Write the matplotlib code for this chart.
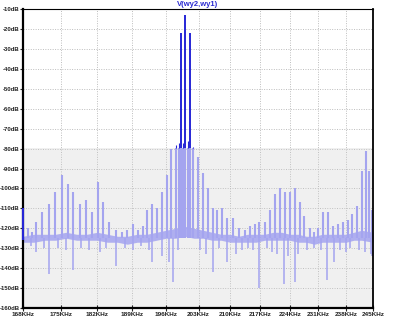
#!/usr/bin/env python3

import matplotlib

matplotlib.use("Agg")
import matplotlib.pyplot as plt
import numpy as np

# spurs going up from the noise floor (kHz, dB)
up_khz = [168.9, 169.6, 170.4, 171.5, 172.8, 173.9, 175.2, 176.3, 177.3, 178.6,
          179.8, 181.0, 182.1, 183.1, 184.3, 185.7, 186.9, 188.0, 189.1, 190.2,
          191.1, 192.0, 193.1, 194.1, 195.2, 196.2, 197.1, 198.1, 198.8, 199.1,
          199.6, 200.1, 200.6, 201.1, 201.8, 202.9, 204.0, 205.1, 206.2, 207.1,
          208.2, 209.3, 210.7, 212.0, 213.4, 214.6, 215.7, 216.7, 218.1, 219.2,
          220.4, 221.6, 222.8, 224.0, 225.2, 226.5, 227.4, 228.9, 230.0, 230.9,
          232.2, 233.4, 234.7, 235.9, 237.2, 238.4, 239.5, 240.8, 242.1, 243.2,
          244.0, 244.8]
up_db = [-120, -122, -117, -112, -108, -102, -93, -98, -102, -108,
         -106, -112, -97, -107, -117, -121, -122, -121, -118, -121,
         -119, -111, -108, -110, -102, -93, -80, -78, -77, -22,
         -77, -13, -76, -22, -79, -84, -92, -100, -110, -111,
         -110, -115, -115, -120, -121, -119, -118, -117, -117, -111,
         -103, -100, -102, -102, -100, -107, -114, -120, -122, -120,
         -112, -112, -119, -118, -117, -116, -113, -109, -91, -81,
         -91, -111]

# spurs going down from the noise floor
down_khz = [169.4, 170.4, 171.9, 172.8, 174.5, 176.0, 177.3, 178.9, 180.4, 182.6,
            183.8, 185.7, 187.5, 189.1, 190.8, 192.4, 193.1, 195.2, 196.7, 197.5,
            198.6, 203.3, 204.6, 206.2, 207.6, 209.3, 211.3, 212.7, 214.0, 215.2,
            216.7, 218.6, 219.8, 221.0, 222.5, 223.5, 225.2, 226.0, 228.2, 229.8,
            231.6, 233.2, 234.9, 236.5, 238.0, 239.0, 241.4, 242.8, 244.4, 244.8]
down_db = [-129, -132, -130, -143, -130, -131, -141, -130, -131, -132,
           -130, -139, -130, -131, -129, -131, -137, -134, -137, -147,
           -131, -131, -133, -142, -130, -137, -133, -131, -130, -131,
           -150, -130, -132, -133, -148, -134, -147, -133, -131, -130,
           -131, -146, -137, -131, -132, -130, -131, -132, -133, -134]

# noise floor band
floor_khz = [168, 170, 172, 174, 176, 178, 180, 182, 184, 186,
             188, 190, 192, 194, 196, 198, 200, 202, 204, 206,
             208, 210, 212, 214, 216, 218, 220, 222, 224, 226,
             228, 230, 232, 234, 236, 238, 240, 242, 245]
floor_hi = [-124, -123, -123, -123, -122, -123, -123, -122, -123, -124,
            -124, -123, -123, -122, -121, -120, -119, -120, -121, -122,
            -123, -123, -124, -123, -123, -123, -122, -122, -123, -123,
            -124, -124, -123, -123, -123, -123, -122, -121, -122]
floor_lo = [-127, -127, -126, -126, -125, -126, -126, -126, -127, -127,
            -128, -127, -127, -126, -125, -125, -124, -125, -125, -126,
            -126, -127, -127, -127, -127, -126, -126, -126, -126, -127,
            -127, -128, -127, -127, -127, -127, -126, -126, -127]

# trace segment drawn at the very left edge
edge_khz = 168.0
edge_db = (-126, -110)

x_ticks = [168, 175, 182, 189, 196, 203, 210, 217, 224, 231, 238, 245]
y_ticks = list(range(-10, -161, -10))

DARK = "#2626d6"
LIGHT = "#a4a4ef"
SHADE = "#f0f0f0"
GRID = "#bdbdbd"
CUT = -79.5
BASE = -125


def main():
    fig = plt.figure(figsize=(4, 3.2), dpi=100)
    ax = fig.add_axes([0.0575, 0.0375, 0.875, 0.934])
    ax.set_xscale("log")
    ax.set_xlim(168, 245)
    ax.set_ylim(-160, -10)

    ax.grid(True, color=GRID, linestyle=(0, (1, 1.5)), linewidth=0.7)
    ax.axhspan(-160, CUT, color=SHADE, zorder=0.6, linewidth=0)
    ax.vlines(x_ticks[1:-1], -160, CUT, color="white", linestyle=(0, (1, 1.5)),
              linewidth=0.7, zorder=0.7)
    ax.hlines(y_ticks[7:-1], 168, 245, color="white", linestyle=(0, (1, 1.5)),
              linewidth=0.7, zorder=0.7)

    up = np.array(up_db, dtype=float)
    ax.fill_between(floor_khz, floor_lo, floor_hi, color=LIGHT, alpha=0.85,
                    linewidth=0, zorder=2)
    ax.vlines(up_khz, BASE, np.minimum(up, CUT), color=LIGHT, linewidth=1.5,
              zorder=2)
    ax.vlines(down_khz, BASE, down_db, color=LIGHT, linewidth=1.1, zorder=2)

    tall = up > CUT
    widths = np.where(up[tall] > -60, 1.4, 0.8)
    ax.vlines(np.array(up_khz)[tall], CUT, up[tall], color=DARK, linewidths=widths,
              zorder=3)
    ax.vlines([edge_khz], edge_db[0], edge_db[1], color=DARK, linewidth=1.5,
              zorder=5, clip_on=False)

    ax.set_xticks(x_ticks)
    ax.set_xticklabels([f"{v}KHz" for v in x_ticks])
    ax.xaxis.set_minor_locator(matplotlib.ticker.NullLocator())
    ax.set_yticks(y_ticks)
    ax.set_yticklabels([f"{v}dB" for v in y_ticks])

    ax.tick_params(axis="both", labelsize=4.6, colors="#222222", length=2.5,
                   width=0.8, pad=0.8)
    ax.tick_params(axis="y", labelsize=4.3, length=2, pad=0.3)
    ax.tick_params(axis="x", direction="inout", length=4)
    for lab in ax.get_xticklabels() + ax.get_yticklabels():
        lab.set_fontweight("bold")
        lab.set_fontfamily("Liberation Sans")

    for side, width in (("left", 1.6), ("bottom", 1.6), ("right", 1.3), ("top", 0.8)):
        ax.spines[side].set_linewidth(width)
        ax.spines[side].set_color("black")
        ax.spines[side].set_zorder(4)

    fig.text(0.495, 0.985, "V(wy2,wy1)", color="#2a2ad0", fontsize=5.5,
             fontweight="bold", family="Liberation Sans", ha="center", va="center")

    fig.savefig("out.png", dpi=100, facecolor="white")


if __name__ == "__main__":
    main()
